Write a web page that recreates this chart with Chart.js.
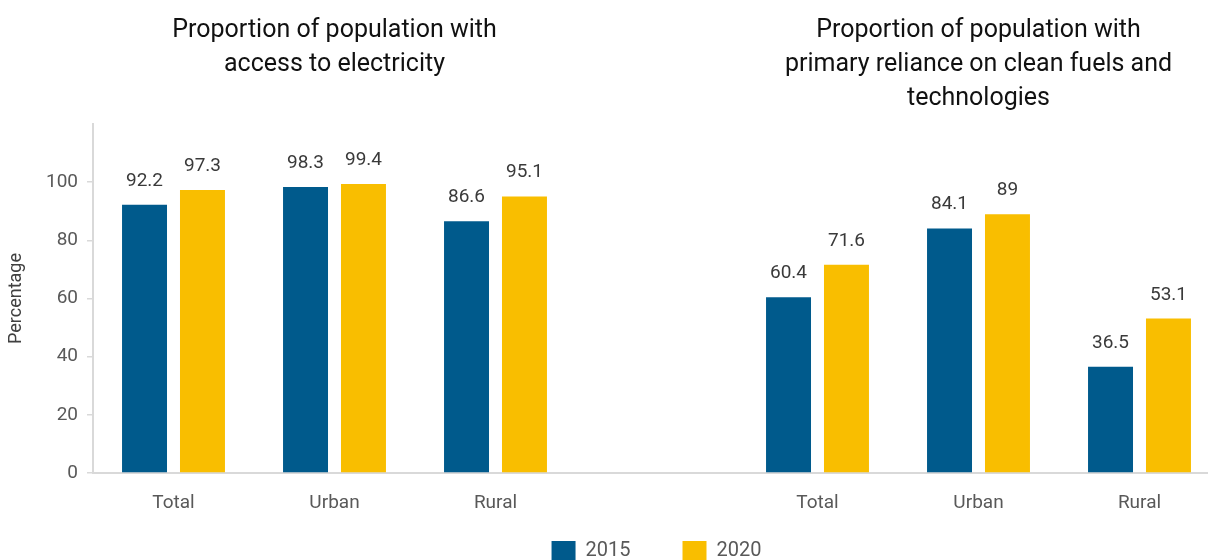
<!DOCTYPE html>
<html>
<head>
<meta charset="utf-8">
<script src="https://cdn.jsdelivr.net/npm/chart.js@4"></script>
<style>
  html, body { margin: 0; padding: 0; background: #fff; overflow: hidden; }
  #wrap { position: relative; width: 1220px; height: 611px; }
</style>
</head>
<body>
<div id="wrap"><canvas id="chart"></canvas></div>
<script>
// two panels share one axis; the empty category keeps them apart
const categories = ['Total', 'Urban', 'Rural', '', 'Total', 'Urban', 'Rural'];
const values2015 = [92.2, 98.3, 86.6, null, 60.4, 84.1, 36.5];
const values2020 = [97.3, 99.4, 95.1, null, 71.6, 89, 53.1];
const yearLabels = ['2015', '2020'];
const panelTitles = [
  { at: 1, lines: ['Proportion of population with', 'access to electricity'] },
  { at: 5, lines: ['Proportion of population with', 'primary reliance on clean fuels and', 'technologies'] }
];

const FONT = 'Roboto, "Noto Sans", sans-serif';

// value text on top of each bar
const barValues = {
  id: 'barValues',
  afterDatasetsDraw(chart) {
    const ctx = chart.ctx;
    ctx.save();
    ctx.font = '19px ' + FONT;
    ctx.fillStyle = '#3a3a3a';
    ctx.textAlign = 'center';
    ctx.textBaseline = 'alphabetic';
    chart.data.datasets.forEach((ds, i) => {
      chart.getDatasetMeta(i).data.forEach((bar, j) => {
        const v = ds.data[j];
        if (v == null) return;
        ctx.fillText(String(v), bar.x, bar.y - 19);
      });
    });
    ctx.restore();
  }
};

// headings above each group of bars
const panelHeadings = {
  id: 'panelHeadings',
  afterDraw(chart) {
    const ctx = chart.ctx;
    const x = chart.scales.x;
    ctx.save();
    ctx.font = '25px ' + FONT;
    ctx.fillStyle = '#111';
    ctx.textAlign = 'center';
    ctx.textBaseline = 'middle';
    panelTitles.forEach(p => {
      const cx = x.getPixelForValue(p.at);
      p.lines.forEach((line, k) => ctx.fillText(line, cx, 31 + k * 34));
    });
    ctx.restore();
  }
};

// the legend's label padding also pads it vertically; pull it back up under the axis
const legendNudge = {
  id: 'legendNudge',
  afterLayout(chart) {
    chart.legend.top -= 40;
    chart.legend.bottom -= 40;
  }
};

new Chart(document.getElementById('chart'), {
  type: 'bar',
  data: {
    labels: categories,
    datasets: [
      { label: yearLabels[0], data: values2015, backgroundColor: '#005a8c' },
      { label: yearLabels[1], data: values2020, backgroundColor: '#f9be00' }
    ]
  },
  options: {
    responsive: true,
    maintainAspectRatio: false,
    animation: false,
    datasets: { bar: { categoryPercentage: 0.72, barPercentage: 0.776 } },
    layout: { padding: { top: 124, left: 0, right: 0, bottom: 0 } },
    scales: {
      x: {
        grid: { display: false },
        border: { display: true, color: '#d9d9d9', width: 2 },
        ticks: { color: '#595959', font: { family: FONT, size: 19 }, padding: 11 },
        afterFit(scale) { scale.height = 56; }
      },
      y: {
        min: 0,
        max: 120,
        grid: { drawOnChartArea: false, drawTicks: true, tickLength: 6, color: '#d9d9d9', lineWidth: 1.5 },
        border: { display: true, color: '#d9d9d9', width: 2 },
        ticks: { stepSize: 20, color: '#595959', font: { family: FONT, size: 19 }, padding: 9 },
        afterBuildTicks(axis) { axis.ticks = axis.ticks.filter(t => t.value <= 100); },
        title: { display: true, text: 'Percentage', color: '#404040', font: { family: FONT, size: 18 }, padding: 6 },
        afterFit(scale) { scale.width = 93; }
      }
    },
    plugins: {
      legend: {
        position: 'bottom',
        fullSize: false,
        labels: {
          boxWidth: 24,
          boxHeight: 20,
          padding: 52,
          color: '#595959',
          font: { family: FONT, size: 20 }
        }
      },
      tooltip: { enabled: false }
    }
  },
  plugins: [barValues, panelHeadings, legendNudge]
});
</script>
</body>
</html>
